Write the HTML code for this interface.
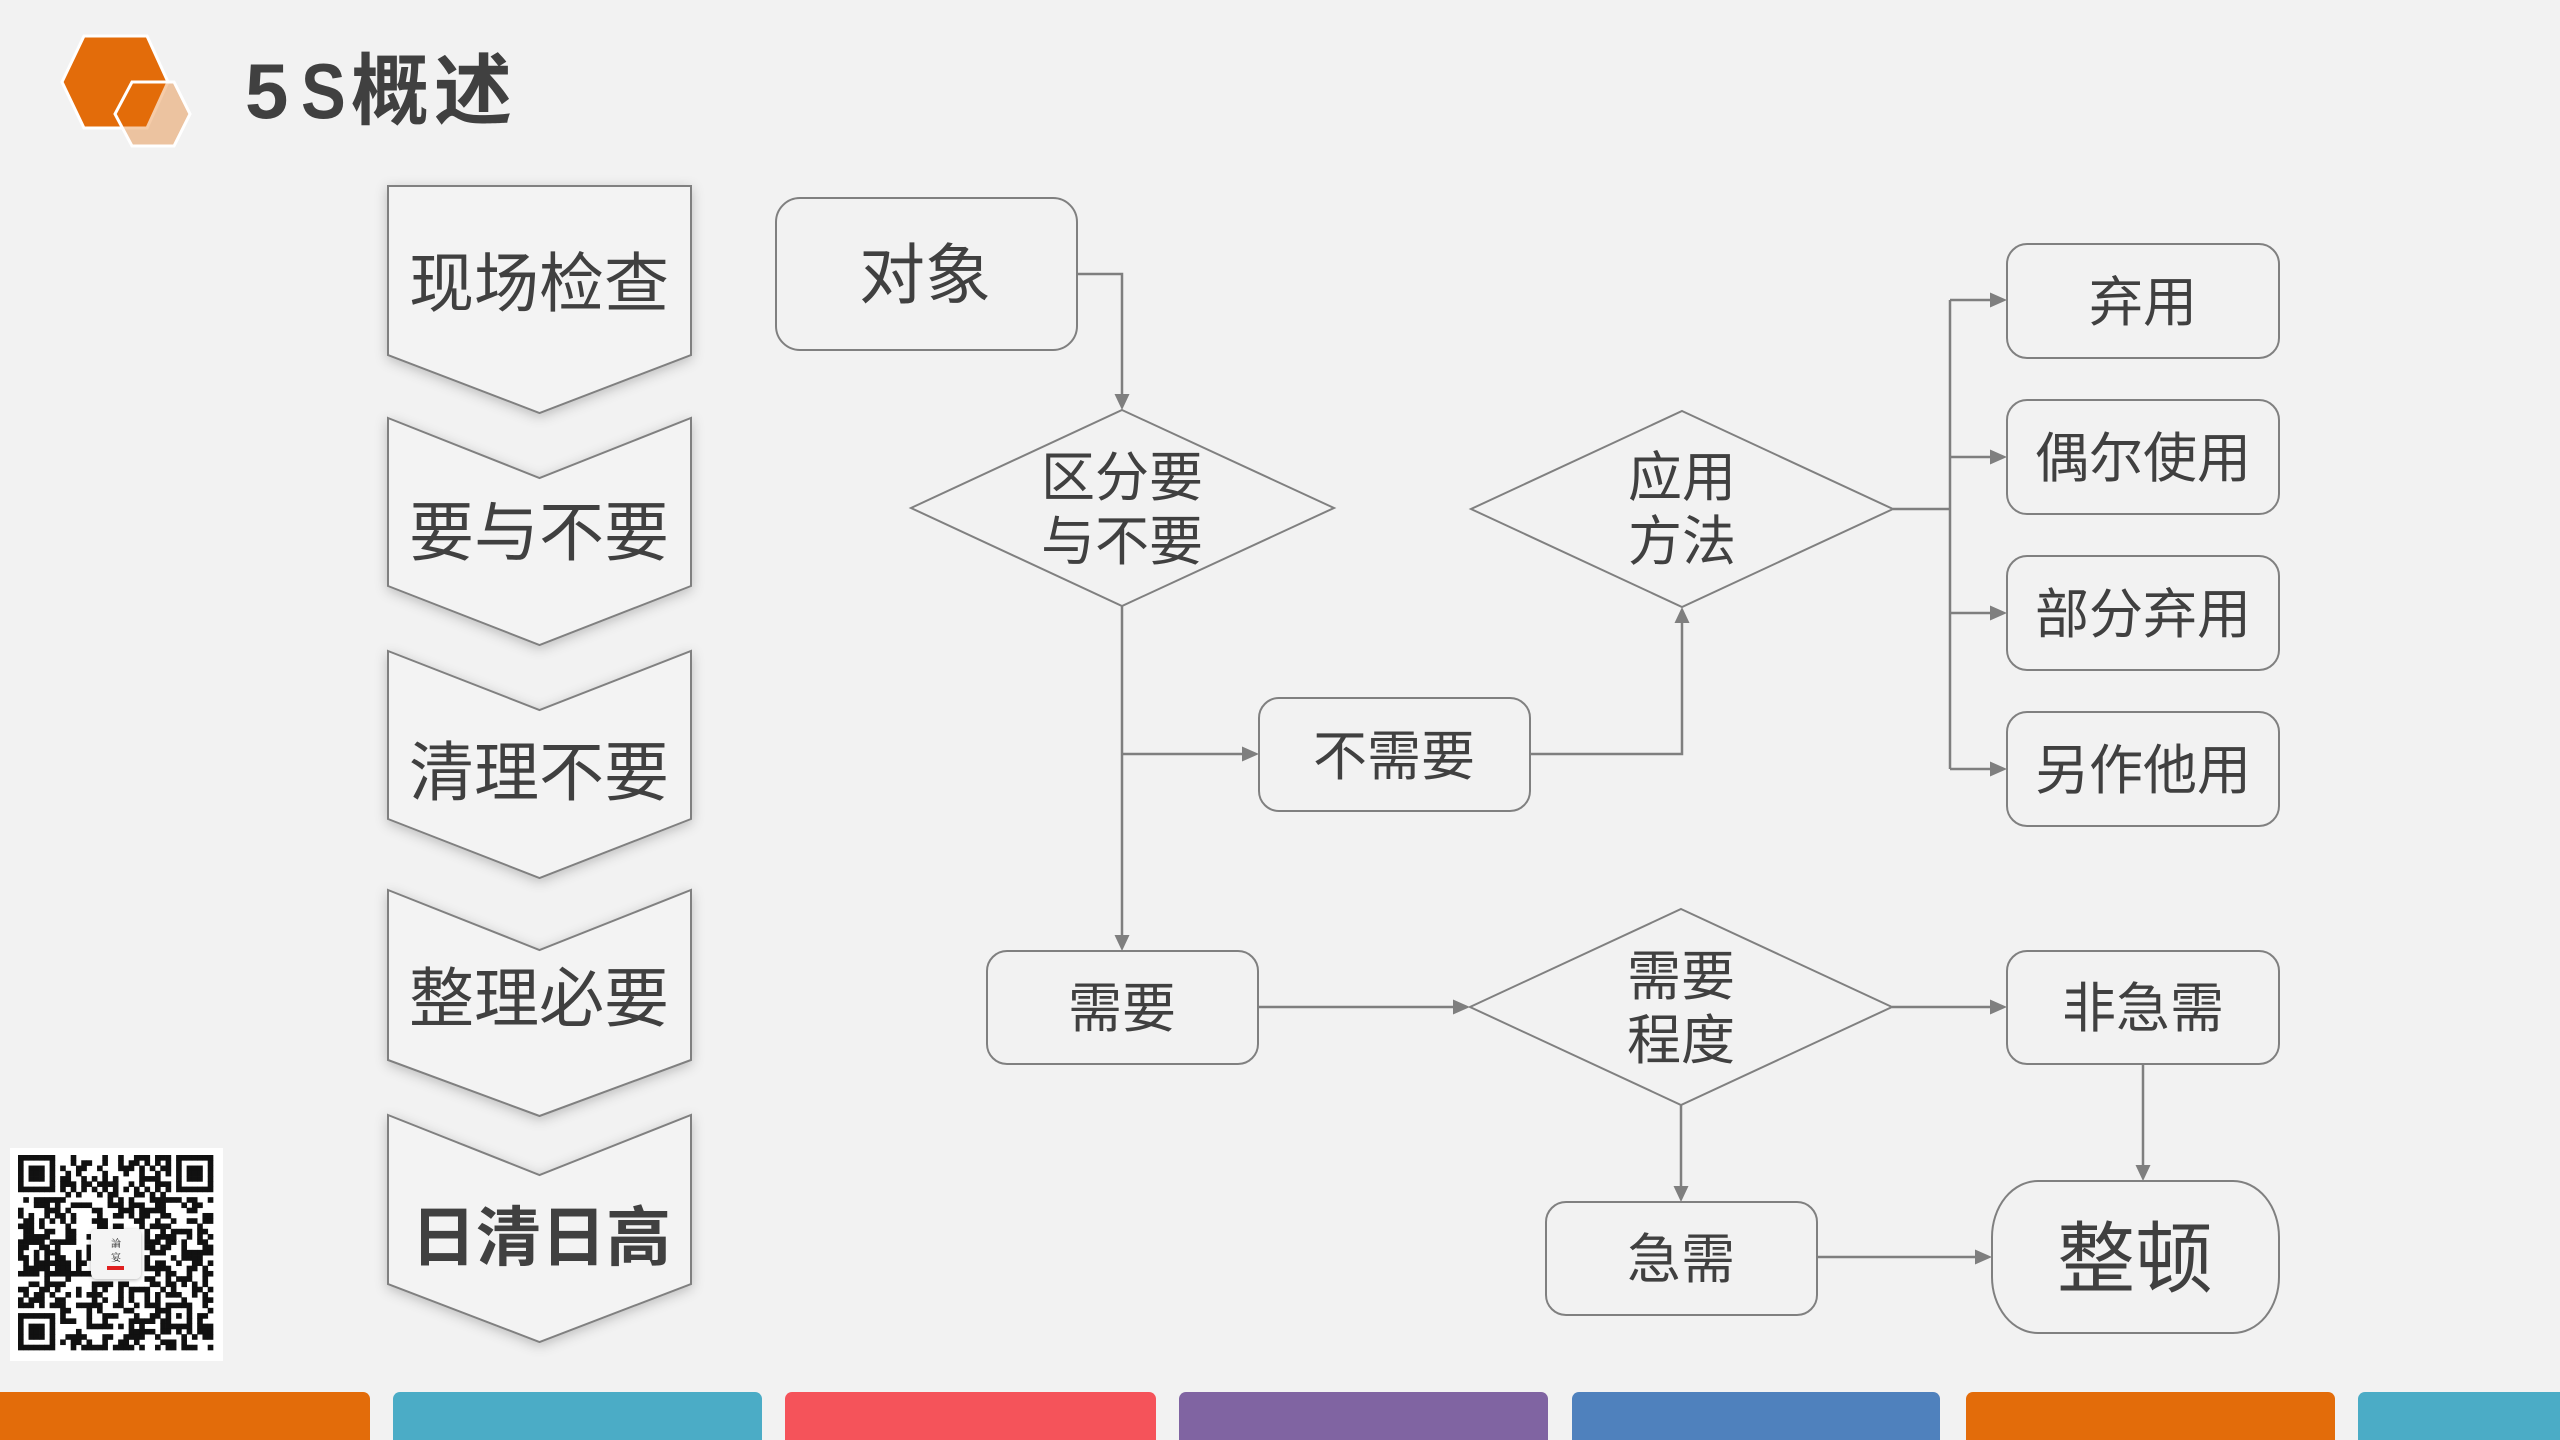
<!DOCTYPE html>
<html>
<head>
<meta charset="utf-8">
<style>
  html,body{margin:0;padding:0;}
  body{width:2560px;height:1440px;background:#F2F2F2;position:relative;overflow:hidden;
       font-family:"Liberation Sans","Noto Sans CJK SC",sans-serif;color:#404040;}
  .t{position:absolute;width:400px;text-align:center;white-space:nowrap;}
  .l{font-size:65px;line-height:78px;height:78px;left:339px;}
  .b{font-size:54px;line-height:64px;height:64px;}
  .d{font-size:54px;line-height:64px;height:128px;}
  .bar{position:absolute;top:1392px;height:48px;border-radius:7px 7px 0 0;}
</style>
</head>
<body>
<svg width="2560" height="1440" style="position:absolute;left:0;top:0" xmlns="http://www.w3.org/2000/svg">
  <defs>
    <filter id="sh" x="-15%" y="-15%" width="130%" height="140%">
      <feDropShadow dx="0" dy="3" stdDeviation="6" flood-color="#000" flood-opacity="0.22"/>
    </filter>
    <filter id="sh2" x="-30%" y="-30%" width="160%" height="160%">
      <feDropShadow dx="0" dy="1" stdDeviation="2" flood-color="#000" flood-opacity="0.3"/>
    </filter>
  </defs>

  <!-- hexagons -->
  <polygon points="62,82 84,36 147,36 168,82 147,128 84,128" fill="#E36C0A" stroke="#FFFFFF" stroke-width="3"/>
  <polygon points="115,114 132,82 174,82 190,114 174,146 132,146" fill="rgba(227,108,10,0.35)" stroke="#FFFFFF" stroke-width="3"/>

  <!-- left pentagons -->
  <g fill="#F3F3F3" stroke="#808080" stroke-width="2" filter="url(#sh)">
    <polygon points="388,186 691,186 691,355 539.5,413 388,355"/>
    <polygon points="388,418 539.5,478 691,418 691,586 539.5,645 388,586"/>
    <polygon points="388,651 539.5,710 691,651 691,819 539.5,878 388,819"/>
    <polygon points="388,890 539.5,950 691,890 691,1060 539.5,1116 388,1060"/>
    <polygon points="388,1115 539.5,1175 691,1115 691,1284 539.5,1342 388,1284"/>
  </g>

  <!-- flow shapes -->
  <g fill="none" stroke="#808080" stroke-width="2">
    <rect x="776" y="198" width="301" height="152" rx="24" ry="24"/>
    <polygon points="1122,410 1334,508 1122,606 911,508"/>
    <polygon points="1682,411 1893,509 1682,607 1471,509"/>
    <polygon points="1681,909 1892,1007 1681,1105 1470,1007"/>
    <rect x="1259" y="698" width="271" height="113" rx="20" ry="20"/>
    <rect x="987" y="951" width="271" height="113" rx="20" ry="20"/>
    <rect x="1546" y="1202" width="271" height="113" rx="20" ry="20"/>
    <rect x="2007" y="951" width="272" height="113" rx="20" ry="20"/>
    <rect x="1992" y="1181" width="287" height="152" rx="46" ry="56"/>
    <rect x="2007" y="244" width="272" height="114" rx="20" ry="20"/>
    <rect x="2007" y="400" width="272" height="114" rx="20" ry="20"/>
    <rect x="2007" y="556" width="272" height="114" rx="20" ry="20"/>
    <rect x="2007" y="712" width="272" height="114" rx="20" ry="20"/>
  </g>

  <!-- connectors -->
  <g fill="none" stroke="#7F7F7F" stroke-width="2.5">
    <path d="M1077 274 H1122 V396"/>
    <path d="M1122 606 V937"/>
    <path d="M1122 754 H1244"/>
    <path d="M1530 754 H1682 V621"/>
    <path d="M1893 509 H1950"/>
    <path d="M1950 300 V769"/>
    <path d="M1950 300 H1992 M1950 457 H1992 M1950 613 H1992 M1950 769 H1992"/>
    <path d="M1258 1007 H1455"/>
    <path d="M1892 1007 H1992"/>
    <path d="M1681 1105 V1188"/>
    <path d="M1817 1257 H1977"/>
    <path d="M2143 1064 V1167"/>
  </g>
  <g fill="#7F7F7F">
    <polygon points="1114.5,394 1129.5,394 1122,410"/>
    <polygon points="1114.5,935 1129.5,935 1122,951"/>
    <polygon points="1242,746.5 1242,761.5 1259,754"/>
    <polygon points="1674.5,623 1689.5,623 1682,607"/>
    <polygon points="1990,292.5 1990,307.5 2007,300"/>
    <polygon points="1990,449.5 1990,464.5 2007,457"/>
    <polygon points="1990,605.5 1990,620.5 2007,613"/>
    <polygon points="1990,761.5 1990,776.5 2007,769"/>
    <polygon points="1453,999.5 1453,1014.5 1470,1007"/>
    <polygon points="1990,999.5 1990,1014.5 2007,1007"/>
    <polygon points="1673.5,1186 1688.5,1186 1681,1202"/>
    <polygon points="1975,1249.5 1975,1264.5 1992,1257"/>
    <polygon points="2135.5,1165 2150.5,1165 2143,1181"/>
  </g>

  <!-- QR code -->
  <rect x="10" y="1148" width="213" height="213" fill="#FFFFFF"/>
  <g id="qrm" fill="#111111"></g>
  <rect x="91" y="1229" width="50" height="50" rx="6" ry="6" fill="#F4F4F4" filter="url(#sh2)"/>
  <rect x="107" y="1266" width="17" height="4" fill="#E02020"/>
  <text x="116" y="1247" font-size="10" text-anchor="middle" fill="#222" font-family="'Noto Serif CJK SC',serif">論</text>
  <text x="116" y="1261" font-size="10" text-anchor="middle" fill="#222" font-family="'Noto Serif CJK SC',serif">宴</text>
</svg>

<!-- title -->
<div style="position:absolute;left:245px;top:52px;font-size:78px;line-height:78px;font-weight:bold;color:#404040;white-space:nowrap;"><span style="display:inline-block;width:56px;">5</span><span style="display:inline-block;width:50px;transform:scaleX(0.86);transform-origin:0 50%;">S</span><span style="letter-spacing:5px;">概述</span></div>

<!-- left column texts -->
<div class="t l" style="top:245px;">现场检查</div>
<div class="t l" style="top:494px;">要与不要</div>
<div class="t l" style="top:734px;">清理不要</div>
<div class="t l" style="top:960px;">整理必要</div>
<div class="t l" style="top:1199px;left:341px;font-weight:bold;">日清日高</div>

<!-- flow texts -->
<div class="t" style="left:725px;top:235px;font-size:66px;line-height:80px;height:80px;">对象</div>
<div class="t d" style="left:922px;top:446px;">区分要<br>与不要</div>
<div class="t d" style="left:1482px;top:446px;">应用<br>方法</div>
<div class="t d" style="left:1481px;top:945px;">需要<br>程度</div>
<div class="t b" style="left:1194px;top:725px;">不需要</div>
<div class="t b" style="left:922px;top:977px;">需要</div>
<div class="t b" style="left:1481px;top:1228px;">急需</div>
<div class="t b" style="left:1943px;top:977px;">非急需</div>
<div class="t b" style="left:1943px;top:271px;">弃用</div>
<div class="t b" style="left:1943px;top:427px;">偶尔使用</div>
<div class="t b" style="left:1943px;top:583px;">部分弃用</div>
<div class="t b" style="left:1943px;top:739px;">另作他用</div>
<div class="t" style="left:1935px;top:1212px;font-size:78px;line-height:94px;height:94px;">整顿</div>

<!-- bottom bars -->
<div class="bar" style="left:0;width:370px;background:#E36C0A;border-top-left-radius:0;"></div>
<div class="bar" style="left:393px;width:369px;background:#4BACC6;"></div>
<div class="bar" style="left:785px;width:371px;background:#F5535A;"></div>
<div class="bar" style="left:1179px;width:369px;background:#8064A2;"></div>
<div class="bar" style="left:1572px;width:368px;background:#4F81BD;"></div>
<div class="bar" style="left:1966px;width:369px;background:#E36C0A;"></div>
<div class="bar" style="left:2358px;width:220px;background:#4BACC6;"></div>

<script>
(function(){
  var n=37, s=5.27, ox=18, oy=1155;
  var seed=20240607;
  function r(){seed=(seed*1103515245+12345)&0x7fffffff;return seed/0x7fffffff;}
  function inFinder(i,j){
    var c=[[0,0],[0,n-7],[n-7,0]];
    for(var k=0;k<3;k++){
      var a=i-c[k][0], b=j-c[k][1];
      if(a>=-1&&a<=7&&b>=-1&&b<=7){
        if(a<0||a>6||b<0||b>6) return 0;
        if(a==0||a==6||b==0||b==6) return 1;
        if(a>=2&&a<=4&&b>=2&&b<=4) return 1;
        return 0;
      }
    }
    return -1;
  }
  var out='';
  for(var i=0;i<n;i++){
    for(var j=0;j<n;j++){
      var v=inFinder(i,j), dark;
      if(v>=0){dark=v;}
      else if(i>=14&&i<=23&&j>=14&&j<=23){dark=0;}
      else if(i>=28&&i<=32&&j>=28&&j<=32){
        var a=i-30,b=j-30;dark=(Math.max(Math.abs(a),Math.abs(b))!=1)?1:0;
      }
      else if(i==6){dark=(j%2==0)?1:0;}
      else if(j==6){dark=(i%2==0)?1:0;}
      else {dark=r()<0.5?1:0;}
      if(dark){
        out+='<rect x="'+(ox+j*s).toFixed(2)+'" y="'+(oy+i*s).toFixed(2)+'" width="'+(s+0.35).toFixed(2)+'" height="'+(s+0.35).toFixed(2)+'"/>';
      }
    }
  }
  document.getElementById('qrm').innerHTML=out;
})();
</script>
</body>
</html>
